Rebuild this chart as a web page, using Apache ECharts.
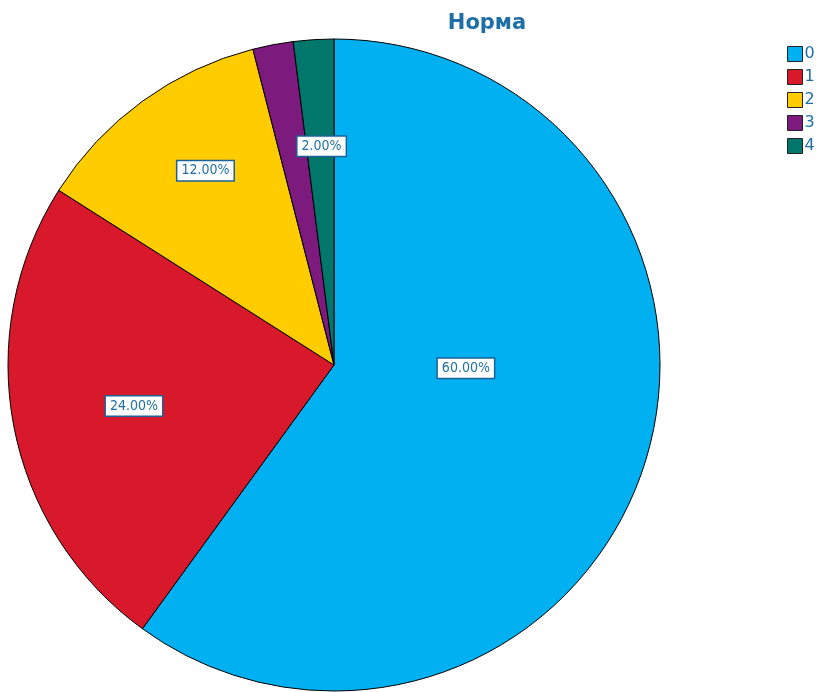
<!DOCTYPE html>
<html>
<head>
<meta charset="utf-8">
<script src="https://cdn.jsdelivr.net/npm/echarts@6/dist/echarts.min.js"></script>
<style>
  html, body { margin: 0; padding: 0; background: #fff; }
  #chart { width: 819px; height: 692px; }
</style>
</head>
<body>
<div id="chart"></div>
<script>
// Distribution of the "Норма" score
const titleText = 'Норма';
const categories = ['0', '1', '2', '3', '4'];
const percents = [60, 24, 12, 2, 2];
const colors = ['#00b0f0', '#d7192b', '#ffcc00', '#7d1a7e', '#00776a'];
// which slices carry a value label (the two thin slices share one)
const showLabel = [true, true, true, false, true];
// nudges that move each label away from the default mid-radius spot
const labelShift = [[-26, -48], [-37, 10], [-31, -60], [0, 0], [-2, -53]];

const ink = '#1e6fa6';
const chart = echarts.init(document.getElementById('chart'), null, { renderer: 'canvas' });

chart.setOption({
  backgroundColor: '#fff',
  animation: false,
  title: {
    text: titleText,
    left: 482,
    top: 8,
    textAlign: 'center',
    textStyle: { fontFamily: 'DejaVu Sans', fontWeight: 'bold', fontSize: 21, color: ink }
  },
  legend: {
    orient: 'vertical',
    left: 782,
    top: 41,
    itemWidth: 15,
    itemHeight: 15,
    itemGap: 7,
    icon: 'rect',
    data: categories,
    itemStyle: { borderColor: '#222', borderWidth: 1 },
    textStyle: { fontFamily: 'DejaVu Sans', fontSize: 16, color: ink, padding: [0, 0, 0, -3] }
  },
  series: [{
    type: 'pie',
    center: [334, 365],
    radius: 326,
    startAngle: 90,
    clockwise: true,
    avoidLabelOverlap: false,
    itemStyle: { borderColor: '#000', borderWidth: 1 },
    label: {
      show: true,
      position: 'inside',
      formatter: p => percents[p.dataIndex].toFixed(2) + '%',
      fontFamily: 'DejaVu Sans Condensed',
      fontSize: 14,
      color: ink,
      backgroundColor: '#fff',
      borderColor: '#1a6299',
      borderWidth: 1.5,
      padding: [3, 4, 2, 4]
    },
    labelLayout: p => ({ dx: labelShift[p.dataIndex][0], dy: labelShift[p.dataIndex][1] }),
    emphasis: { disabled: true },
    data: categories.map((c, i) => ({
      name: c,
      value: percents[i],
      itemStyle: { color: colors[i] },
      label: { show: showLabel[i] }
    }))
  }]
});
</script>
</body>
</html>
